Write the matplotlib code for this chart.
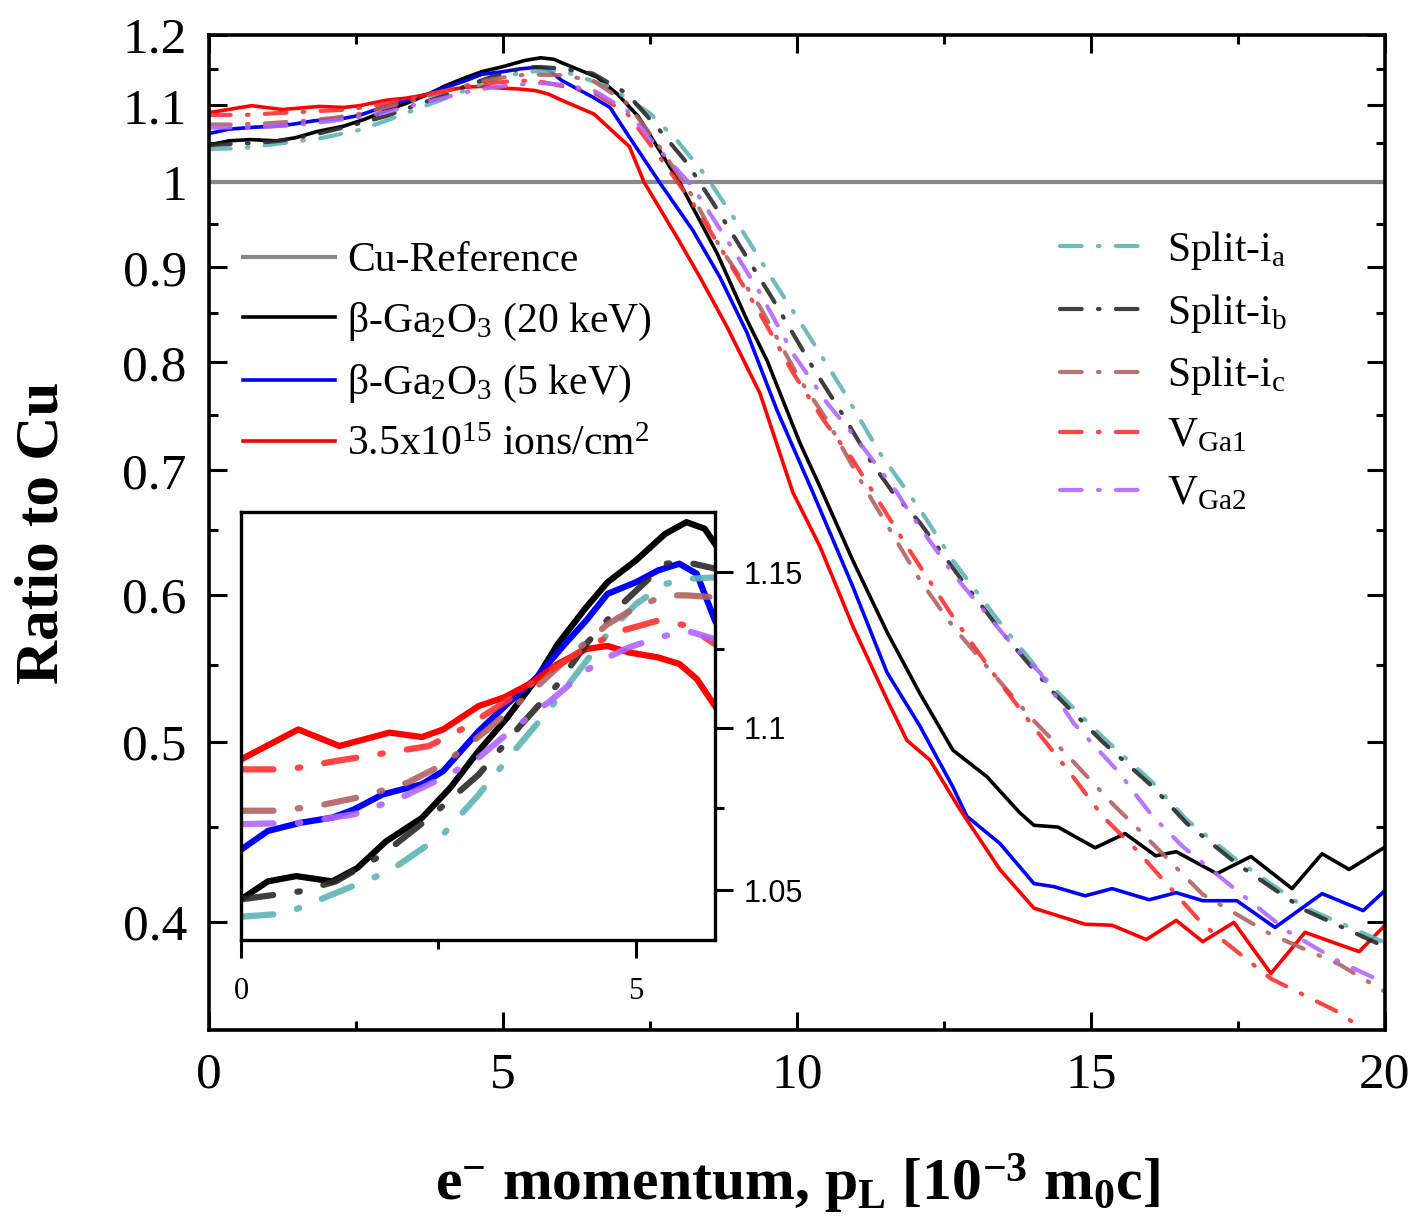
import numpy as np
import matplotlib
matplotlib.use("Agg")
import matplotlib.pyplot as plt
from matplotlib.ticker import FixedLocator, NullFormatter, FuncFormatter

plt.rcParams['font.family'] = ['Liberation Serif', 'DejaVu Serif']
plt.rcParams['mathtext.fontset'] = 'custom'
plt.rcParams['mathtext.rm'] = 'Liberation Serif'
plt.rcParams['mathtext.it'] = 'Liberation Serif:italic'
plt.rcParams['mathtext.bf'] = 'Liberation Serif:bold'

# Cu reference
cu_x = [0, 20]
cu_y = [1.0, 1.0]

# beta-Ga2O3 (20 keV)
k20_x = [0, 0.34, 0.70, 1.155, 1.47, 1.835, 2.29, 2.65, 3.01, 3.37, 3.74, 4.01, 4.37, 4.64, 5.0,
         5.37, 5.64, 5.87, 6.0, 6.6, 6.95, 7.3, 8.0, 8.64, 9.15, 9.49, 10.05, 10.39, 10.95, 11.53,
         12.09, 12.65, 13.23, 13.79, 14.03, 14.44, 15.07, 15.58, 16.10, 16.45, 17.14, 17.72, 18.42,
         18.93, 19.39, 20]
k20_y = [1.0472, 1.0526, 1.0542, 1.0526, 1.0566, 1.0647, 1.0719, 1.0812, 1.0927, 1.1031, 1.1154,
         1.1266, 1.1385, 1.1467, 1.1539, 1.1627, 1.1666, 1.1644, 1.1594, 1.139, 1.115, 1.085, 1.0,
         0.916, 0.843, 0.802, 0.724, 0.686, 0.626, 0.573, 0.531, 0.495, 0.479, 0.458, 0.451, 0.450,
         0.4386, 0.4464, 0.4343, 0.4365, 0.4248, 0.4339, 0.417, 0.4354, 0.427, 0.439]

# beta-Ga2O3 (5 keV)
k5_x = [0, 0.34, 0.75, 1.155, 1.43, 1.79, 2.29, 2.56, 3.01, 3.37, 3.74, 4.1, 4.37, 4.64, 5.0, 5.28,
        5.55, 5.77, 6.0, 6.53, 6.82, 7.11, 7.67, 8.23, 8.69, 9.15, 9.66, 10.27, 10.95, 11.53, 12.09,
        12.65, 12.89, 13.45, 14.03, 14.37, 14.90, 15.36, 15.99, 16.45, 16.90, 17.48, 18.13, 18.93,
        19.63, 20]
k5_y = [1.0622, 1.0679, 1.0704, 1.0720, 1.0745, 1.0791, 1.0823, 1.0864, 1.0989, 1.1074, 1.1158,
        1.1266, 1.1342, 1.1429, 1.1467, 1.1506, 1.1528, 1.1495, 1.1342, 1.111, 1.097, 1.062, 0.999,
        0.942, 0.889, 0.830, 0.754, 0.681, 0.606, 0.545, 0.510, 0.473, 0.456, 0.441, 0.4196, 0.418,
        0.4133, 0.417, 0.4113, 0.4149, 0.4108, 0.4108, 0.3974, 0.4144, 0.4058, 0.416]

# 3.5x10^15 ions/cm^2
irr_x = [0, 0.725, 1.245, 1.88, 2.29, 2.56, 3.01, 3.33, 3.69, 4.01, 4.37, 4.64, 4.91, 5.28, 5.55,
         5.77, 6.0, 6.55, 7.15, 7.4, 7.96, 8.35, 8.81, 9.37, 9.93, 10.39, 10.95, 11.53, 11.87, 12.26,
         12.77, 13.45, 14.03, 14.90, 15.36, 15.94, 16.45, 16.90, 17.43, 18.06, 18.64, 19.56, 20]
irr_y = [1.0900, 1.0994, 1.0942, 1.0984, 1.0970, 1.0994, 1.1068, 1.1095, 1.1143, 1.1202, 1.1250,
         1.1260, 1.1239, 1.1223, 1.1202, 1.1154, 1.1068, 1.088, 1.045, 1.0, 0.934, 0.889, 0.836,
         0.770, 0.681, 0.637, 0.577, 0.527, 0.501, 0.489, 0.460, 0.427, 0.407, 0.399, 0.3985, 0.3915,
         0.4009, 0.3905, 0.3999, 0.3754, 0.3950, 0.3857, 0.3985]

# Split-ia
sa_x = [0, 0.57, 1.2, 1.88, 2.56, 3.01, 3.46, 3.92, 4.28, 4.64, 5.0, 5.37, 5.64, 6.0, 6.82, 7.5,
        7.96, 8.47, 9.03, 9.59, 10.17, 10.78, 11.41, 12.09, 12.65, 13.5, 14.35, 15.2, 16.05, 16.63,
        17.48, 18.64, 20]
sa_y = [1.0420, 1.0430, 1.0491, 1.0557, 1.0669, 1.0791, 1.0927, 1.1063, 1.1181, 1.1299, 1.1396,
        1.1461, 1.1478, 1.1483, 1.125, 1.089, 1.053, 1.006, 0.946, 0.886, 0.830, 0.773, 0.715,
        0.667, 0.626, 0.577, 0.535, 0.503, 0.4755, 0.454, 0.432, 0.4073, 0.390]

# Split-ib
sb_x = [0, 0.75, 1.2, 1.79, 2.38, 3.01, 3.55, 4.01, 4.37, 4.78, 5.05, 5.37, 5.64, 6.0, 6.53, 7.11,
        7.67, 8.13, 8.57, 8.91, 9.59, 10.27, 10.8, 11.24, 11.63, 12.09, 12.77, 13.5, 14.35, 15.2,
        16.05, 16.63, 17.48, 18.64, 20]
sb_y = [1.0472, 1.0496, 1.0526, 1.0607, 1.0719, 1.0853, 1.1010, 1.1137, 1.1266, 1.1385, 1.1451,
        1.1528, 1.1533, 1.1512, 1.144, 1.116, 1.066, 1.024, 0.975, 0.937, 0.865, 0.795, 0.748,
        0.709, 0.681, 0.656, 0.613, 0.572, 0.532, 0.500, 0.473, 0.452, 0.430, 0.406, 0.388]

# Split-ic
sc_x = [0, 0.48, 0.97, 1.56, 2.11, 2.56, 3.1, 3.69, 4.19, 4.64, 5.0, 5.37, 5.64, 6.0, 6.53, 7.11,
        7.67, 8.23, 8.69, 9.37, 10.05, 10.51, 11.07, 12.09, 12.65, 13.23, 13.96, 14.62, 15.37,
        15.77, 16.9, 18.06, 19.22, 20]
sc_y = [1.0741, 1.0741, 1.0756, 1.0786, 1.0828, 1.0884, 1.0989, 1.1116, 1.1234, 1.1330, 1.1385,
        1.1424, 1.1424, 1.1418, 1.134, 1.103, 1.044, 0.982, 0.923, 0.857, 0.783, 0.745, 0.692,
        0.611, 0.577, 0.549, 0.516, 0.491, 0.463, 0.450, 0.414, 0.394, 0.3797, 0.367]

# VGa1
v1_x = [0, 0.61, 1.2, 1.88, 2.38, 2.83, 3.37, 3.92, 4.37, 4.82, 5.28, 5.64, 6.0, 6.53, 7.11, 7.67,
        8.23, 8.69, 9.37, 9.93, 10.45, 10.95, 11.87, 12.65, 13.4, 14.01, 14.65, 15.2, 15.77, 16.9,
        18.06, 19.22, 19.8]
v1_y = [1.0869, 1.0869, 1.0895, 1.0922, 1.0942, 1.0999, 1.1085, 1.1181, 1.1255, 1.1309, 1.1342,
        1.1326, 1.1266, 1.118, 1.089, 1.031, 0.974, 0.923, 0.850, 0.790, 0.745, 0.709, 0.637,
        0.584, 0.541, 0.510, 0.481, 0.456, 0.4376, 0.399, 0.373, 0.3577, 0.347]

# VGa2
v2_x = [0, 0.75, 1.43, 2.02, 2.56, 3.01, 3.46, 3.92, 4.37, 4.64, 4.91, 5.28, 5.64, 6.0, 6.53, 7.11,
        7.67, 8.23, 8.81, 9.37, 9.93, 10.51, 11.07, 11.7, 11.92, 12.65, 13.4, 13.69, 14.13, 14.7,
        15.49, 15.77, 16.05, 16.57, 17.48, 18.35, 19.22, 20]
v2_y = [1.0700, 1.0704, 1.0730, 1.0781, 1.0843, 1.0906, 1.0999, 1.1085, 1.1181, 1.1223, 1.1255,
        1.1287, 1.1309, 1.1282, 1.121, 1.093, 1.040, 0.994, 0.931, 0.872, 0.809, 0.761, 0.724,
        0.681, 0.664, 0.616, 0.577, 0.5625, 0.545, 0.512, 0.481, 0.468, 0.456, 0.439, 0.416,
        0.3954, 0.381, 0.371]

solid = [
    (k20_x, k20_y, 'black', 'β-Ga$_2$O$_3$ (20 keV)'),
    (k5_x, k5_y, '#0000ff', 'β-Ga$_2$O$_3$ (5 keV)'),
    (irr_x, irr_y, '#ff0000', '3.5x10$^{15}$ ions/cm$^2$'),
]
dashdot = [
    (sa_x, sa_y, '#5fb4b4', r'Split-i$_\mathrm{a}$'),
    (sb_x, sb_y, '#2a2a2a', r'Split-i$_\mathrm{b}$'),
    (sc_x, sc_y, '#b36262', r'Split-i$_\mathrm{c}$'),
    (v1_x, v1_y, '#ff3030', r'V$_\mathrm{Ga1}$'),
    (v2_x, v2_y, '#b266ff', r'V$_\mathrm{Ga2}$'),
]
dd_pattern = (5.2, 3.9, 0.4, 3.9)

fig = plt.figure(figsize=(14.16, 12.19), dpi=100)
ax = fig.add_axes([0.1476, 0.155, 0.8305, 0.8163])

h_cu, = ax.plot(cu_x, cu_y, color='#888888', lw=3, label='Cu-Reference')
h_solid = []
for x, y, c, lab in solid:
    h, = ax.plot(x, y, color=c, lw=2.6, label=lab, solid_joinstyle='round')
    h_solid.append(h)
h_dd = []
for x, y, c, lab in dashdot:
    h, = ax.plot(x, y, color=c, lw=3, alpha=0.9, label=lab,
                 dashes=dd_pattern, dash_capstyle='round')
    h_dd.append(h)

ax.set_xlim(0, 20)
ax.set_yscale('log')
ax.set_ylim(0.35, 1.2)
ax.xaxis.set_major_locator(FixedLocator([0, 5, 10, 15, 20]))
ax.xaxis.set_minor_locator(FixedLocator([2.5, 7.5, 12.5, 17.5]))
ax.yaxis.set_major_locator(FixedLocator([0.4, 0.5, 0.6, 0.7, 0.8, 0.9, 1.0, 1.1, 1.2]))
ax.yaxis.set_minor_locator(FixedLocator([0.45, 0.55, 0.65, 0.75, 0.85, 0.95, 1.05, 1.15]))
ax.yaxis.set_major_formatter(FuncFormatter(lambda v, p: '%g' % v))
ax.yaxis.set_minor_formatter(NullFormatter())
ax.tick_params(which='both', direction='in', top=True, right=True, width=2.2, labelsize=37)
ax.tick_params(which='major', length=13)
ax.tick_params(which='minor', length=6.5)
ax.tick_params(axis='x', pad=16)
ax.tick_params(axis='y', pad=16)
for s in ax.spines.values():
    s.set_linewidth(2.6)

ax.set_ylabel('Ratio to Cu', fontsize=44, fontweight='bold')
ax.yaxis.set_label_coords(-0.118, 0.5)
ax.set_xlabel(r'e$^{\mathbf{-}}$ momentum, p$_{\mathbf{L}}$ [10$^{\mathbf{-3}}$ m$_{\mathbf{0}}$c]',
              fontsize=43, fontweight='bold')
ax.xaxis.set_label_coords(0.5, -0.122)

leg1 = ax.legend(handles=[h_cu] + h_solid, loc='upper left', bbox_to_anchor=(0.029, 0.792),
                 frameon=False, fontsize=30, handlelength=2.2, handletextpad=0.3,
                 labelspacing=0.49, borderpad=0, borderaxespad=0)
ax.add_artist(leg1)
ax.legend(handles=h_dd, loc='upper left', bbox_to_anchor=(0.7236, 0.805),
          frameon=False, fontsize=30, handlelength=2.2, handletextpad=0.36,
          labelspacing=0.47, borderpad=0, borderaxespad=0)

# inset: zoom on the low-momentum region
axi = fig.add_axes([0.1702, 0.2289, 0.3347, 0.3511])
for x, y, c, lab in solid:
    axi.plot(x, y, color=c, lw=4.5, solid_joinstyle='round', solid_capstyle='round')
for x, y, c, lab in dashdot:
    axi.plot(x, y, color=c, lw=4.5, alpha=0.9, dashes=dd_pattern, dash_capstyle='round')
axi.set_xlim(0, 6)
axi.set_yscale('log')
axi.set_ylim(1.0351, 1.170)
axi.xaxis.set_major_locator(FixedLocator([0, 5]))
axi.xaxis.set_minor_locator(FixedLocator([2.5]))
axi.yaxis.tick_right()
axi.yaxis.set_major_locator(FixedLocator([1.05, 1.1, 1.15]))
axi.yaxis.set_minor_locator(FixedLocator([1.075, 1.125]))
axi.yaxis.set_major_formatter(FuncFormatter(lambda v, p: '%g' % v))
axi.yaxis.set_minor_formatter(NullFormatter())
axi.tick_params(which='both', direction='out', width=2.2)
axi.tick_params(which='major', length=13)
axi.tick_params(which='minor', length=6.5)
axi.tick_params(axis='x', labelsize=22, pad=14)
axi.tick_params(axis='y', labelsize=22, pad=8)
for t in axi.get_yticklabels():
    t.set_family(['Liberation Sans', 'DejaVu Sans'])
for s in axi.spines.values():
    s.set_linewidth(2.4)

fig.savefig('out.png', dpi=100)
